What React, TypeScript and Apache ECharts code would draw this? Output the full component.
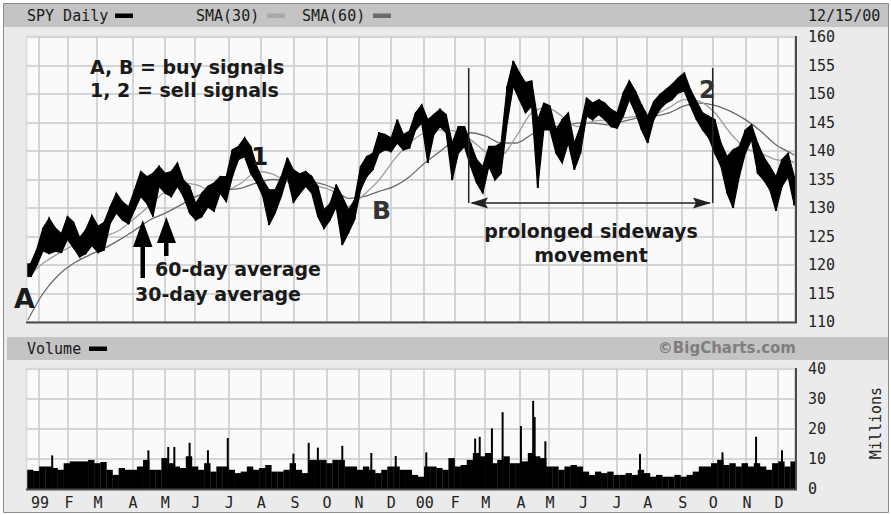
import React, { useEffect, useRef } from "react";
import * as echarts from "echarts";

// Trading days per month: partial Dec 1998, Jan 1999 ... Dec 2000 (to 12/15)
const MONTH_DAYS = [8, 19, 19, 23, 21, 20, 22, 21, 22, 21, 21, 21, 22, 20, 20, 23, 19, 22, 22, 20, 23, 20, 22, 21, 11];
const MONTH_LABELS = ["", "99", "F", "M", "A", "M", "J", "J", "A", "S", "O", "N", "D", "00", "F", "M", "A", "M", "J", "J", "A", "S", "O", "N", "D"];
const PRICE_TICKS = [110, 160, 5];
const VOLUME_TICKS = [0, 40, 10];

// Price range, one high/low pair for every 4 trading days
const SAMPLE_STEP = 4;
const PRICE_HIGH = [
  120.3, 122.8, 126.5, 128.2, 126.5, 125.5, 128.5, 127.5, 124.8, 126.2,
  128.7, 126.8, 127.5, 130.2, 132.6, 131.1, 130.2, 133.2, 136.4, 135.5,
  136.1, 137.3, 136.1, 136.4, 137.9, 134.9, 133.8, 130.8, 132.6, 133.8,
  134.4, 135.5, 135.5, 140.2, 140.8, 142.3, 140.8, 137.3, 134.9, 133.2,
  133.2, 135.5, 138.8, 136.7, 136.0, 136.4, 135.5, 133.8, 129.7, 130.8,
  134.1, 132.0, 129.7, 131.4, 137.3, 139.0, 139.6, 143.2, 142.9, 142.3,
  145.5, 142.9, 143.5, 146.7, 148.1, 145.5, 146.4, 147.3, 146.4, 141.4,
  144.3, 144.3, 141.4, 138.5, 137.3, 140.8, 140.8, 141.4, 151.4, 155.8,
  153.7, 152.0, 152.3, 145.5, 148.4, 147.9, 143.7, 145.5, 146.7, 141.4,
  144.3, 149.3, 148.4, 149.0, 148.4, 147.3, 146.7, 150.2, 152.3, 150.5,
  148.1, 146.1, 148.7, 149.9, 150.8, 151.7, 152.8, 153.7, 150.8, 148.7,
  146.7, 146.1, 145.5, 141.4, 139.0, 140.2, 140.8, 143.7, 144.6, 141.4,
  139.0, 137.3, 135.5, 138.5, 139.6, 135.5,
];
const PRICE_LOW = [
  117.9, 120.0, 122.5, 122.0, 122.4, 122.2, 124.5, 123.0, 121.4, 122.0,
  123.4, 122.2, 122.6, 127.3, 129.1, 127.9, 127.2, 129.7, 132.0, 130.8,
  128.5, 133.8, 132.6, 132.0, 133.8, 132.0, 129.1, 127.9, 128.5, 130.2,
  129.4, 132.6, 131.1, 135.5, 138.5, 139.0, 136.1, 134.4, 132.0, 127.0,
  129.1, 132.0, 135.5, 131.0, 132.5, 133.8, 132.6, 128.5, 126.4, 127.9,
  130.2, 123.5, 125.6, 127.9, 133.2, 135.5, 136.7, 139.6, 140.2, 139.9,
  141.4, 140.2, 140.5, 143.7, 144.9, 137.9, 142.9, 144.3, 143.2, 134.9,
  139.6, 140.8, 137.3, 134.4, 132.6, 137.3, 134.9, 136.1, 144.9, 151.4,
  149.0, 146.7, 147.9, 133.5, 143.7, 143.7, 139.6, 137.9, 141.4, 136.7,
  139.6, 146.1, 145.5, 146.4, 145.5, 144.3, 144.0, 146.1, 149.0, 146.7,
  143.7, 141.4, 145.5, 147.3, 148.4, 149.0, 150.2, 150.5, 147.9, 145.5,
  143.7, 142.3, 139.6, 137.3, 132.6, 130.0, 135.5, 139.6, 142.0, 136.1,
  134.9, 133.2, 129.5, 133.8, 135.5, 130.5,
];

// Moving averages, read at these trading-day positions
const SMA_DAYS = [
  0, 10, 20, 30, 40, 50, 60, 70, 80, 90, 100, 110, 120, 130, 140, 150, 160, 170, 180, 190,
  200, 210, 220, 230, 240, 250, 260, 270, 280, 290, 300, 310, 320, 330, 340, 350, 360, 370, 380, 390,
  400, 410, 420, 430, 440, 450, 460, 470, 480, 490, 500, 502,
];
const SMA30 = [
  117.9, 120.3, 122.0, 123.5, 124.4, 125.0, 126.1, 128.2, 130.5, 132.9, 134.4, 134.1, 133.2, 133.2, 134.4, 136.4, 136.0, 134.6, 134.0, 133.8,
  132.9, 130.2, 132.3, 134.9, 138.5, 141.4, 143.2, 143.7, 143.5, 142.0, 139.9, 139.3, 142.6, 146.7, 147.6, 146.1, 144.3, 145.2, 145.5, 145.8,
  146.1, 146.4, 147.6, 149.0, 148.7, 146.7, 143.2, 140.5, 139.6, 138.5, 138.2, 137.9,
];
const SMA60 = [
  110.3, 115.0, 118.2, 120.3, 121.7, 122.9, 124.4, 126.1, 127.9, 129.1, 130.5, 132.0, 132.9, 133.2, 133.5, 134.4, 135.0, 134.9, 134.6, 134.4,
  133.5, 131.7, 132.0, 132.9, 133.8, 135.5, 137.9, 139.9, 142.0, 143.2, 142.6, 141.4, 141.4, 142.9, 144.3, 144.3, 144.9, 144.9, 144.6, 145.2,
  145.8, 146.1, 146.7, 147.9, 148.4, 148.0, 147.0, 145.5, 143.5, 141.1, 139.6, 139.3,
];

// Volume (millions), typical level for every 4 trading days
const VOLUME = [
  6.4, 6.0, 7.5, 7.5, 7.0, 6.4, 8.6, 9.2, 9.2, 9.2,
  9.7, 8.6, 9.0, 6.4, 4.7, 7.0, 6.4, 6.4, 7.5, 9.7,
  6.4, 6.4, 10.3, 8.6, 7.5, 7.0, 10.9, 7.5, 6.4, 8.6,
  5.8, 7.5, 7.5, 6.4, 5.3, 5.8, 7.5, 6.4, 7.0, 8.0,
  5.8, 5.8, 6.4, 8.6, 6.4, 5.3, 9.7, 9.7, 9.7, 8.6,
  9.7, 9.7, 7.5, 7.5, 6.4, 7.5, 6.4, 5.3, 6.4, 7.5,
  7.5, 6.4, 6.4, 4.7, 4.1, 7.5, 7.5, 7.0, 6.4, 10.3,
  7.5, 8.0, 9.7, 12.0, 10.9, 12.0, 8.6, 9.7, 10.9, 8.6,
  8.6, 9.2, 12.0, 10.9, 10.3, 7.5, 7.5, 6.4, 7.5, 8.0,
  7.5, 5.8, 4.7, 5.8, 5.3, 5.8, 4.7, 4.7, 5.3, 4.7,
  6.4, 5.3, 4.1, 4.7, 4.1, 4.1, 4.7, 4.1, 4.7, 5.8,
  7.5, 7.5, 8.6, 9.7, 8.0, 8.6, 7.5, 8.6, 7.5, 8.6,
  7.5, 6.4, 8.6, 9.2, 7.5, 9.2,
];
// Single-day volume spikes: [trading day, millions]
const VOLUME_SPIKES = [
  [16, 11.2], [79, 12.9], [92, 14.0], [96, 14.0], [106, 15.4], [118, 12.9], [131, 17.0],
  [174, 11.8], [184, 15.4], [190, 13.8], [206, 14.4], [225, 12.0], [241, 11.0],
  [261, 12.2], [293, 16.8], [296, 17.4], [304, 20.2], [311, 25.6], [323, 21.0], [331, 29.4],
  [332, 24.0], [339, 15.9], [401, 11.7], [455, 12.2], [477, 17.4], [494, 12.9],
];

const MONO = '"DejaVu Sans Mono", monospace';
const BOLD = '"DejaVu Sans", "Open Sans", sans-serif';

export default function App() {
  const ref = useRef<HTMLDivElement>(null);

  useEffect(() => {
    if (!ref.current) return;
    const chart = echarts.init(ref.current, null, { renderer: "svg" });

    const N = MONTH_DAYS.reduce((a, b) => a + b, 0);
    const categories = Array.from({ length: N }, (_, i) => String(i));
    const labelAt = new Map<number, string>();
    let acc = 0;
    MONTH_DAYS.forEach((d, i) => {
      labelAt.set(acc, MONTH_LABELS[i]);
      acc += d;
    });
    const isMonth = (i: number) => i > 0 && labelAt.has(i);

    const gridLine = { color: "#c8c8c8", width: 1.5 };

    const makeX = (gridIndex: number) => ({
      type: "category",
      gridIndex,
      data: categories,
      boundaryGap: true,
      axisLine: { show: false },
      axisTick: { show: false },
      axisLabel: {
        show: gridIndex === 1,
        interval: (i: number) => isMonth(i),
        formatter: (_v: string, i: number) => labelAt.get(i) ?? "",
        fontFamily: MONO,
        fontSize: 15,
        color: "#222",
        margin: 6,
      },
      splitLine: { show: true, interval: (i: number) => isMonth(i), lineStyle: gridLine },
    });

    const makeY = (gridIndex: number, t: number[]) => ({
      type: "value",
      gridIndex,
      position: "right",
      min: t[0],
      max: t[1],
      interval: t[2],
      axisLine: { show: false },
      axisTick: { show: false },
      axisLabel: { fontFamily: MONO, fontSize: 15, color: "#222", margin: 13 },
      splitLine: { show: true, lineStyle: gridLine },
    });

    // each sample k: [day, low, high, nextDay, nextLow, nextHigh]
    const priceData = PRICE_HIGH.map((h, k) => {
      const last = k === PRICE_HIGH.length - 1;
      const nk = last ? k : k + 1;
      const nDay = last ? N - 1 : nk * SAMPLE_STEP + SAMPLE_STEP / 2 - 0.5;
      return [k * SAMPLE_STEP + SAMPLE_STEP / 2 - 0.5, PRICE_LOW[k], h, nDay, PRICE_LOW[nk], PRICE_HIGH[nk]];
    });
    const volData = VOLUME.map((v, k) => [k * SAMPLE_STEP, v]);

    const priceRender = (params: any, api: any) => {
      const d0 = api.value(0), lo0 = api.value(1), hi0 = api.value(2);
      const d1 = api.value(3), lo1 = api.value(4), hi1 = api.value(5);
      const a = api.coord([d0, hi0]);
      const b = api.coord([d1, hi1]);
      const c = api.coord([d1, lo1]);
      const e = api.coord([d0, lo0]);
      const bw = api.size([1, 0])[0];
      const children: any[] = [
        { type: "polygon", shape: { points: [a, b, c, e] }, style: { fill: "#000", stroke: "#000", lineWidth: 1.2 } },
        { type: "rect", shape: { x: a[0] - bw * 0.6, y: a[1], width: bw * 1.2, height: Math.max(1, e[1] - a[1]) }, style: { fill: "#000" } },
      ];
      if (params.dataIndex === 0) {
        const s = api.coord([0, hi0]);
        const t = api.coord([0, lo0]);
        children.push({ type: "rect", shape: { x: s[0] - bw / 2, y: s[1], width: a[0] - s[0] + bw / 2, height: t[1] - s[1] }, style: { fill: "#000" } });
      }
      return { type: "group", children };
    };

    const volRender = (params: any, api: any) => {
      const idx = api.value(0);
      const top = api.coord([idx, api.value(1)]);
      const bot = api.coord([idx, 0]);
      const bw = api.size([1, 0])[0];
      const days = Math.min(SAMPLE_STEP, N - idx);
      return {
        type: "rect",
        shape: { x: top[0] - bw / 2, y: top[1], width: bw * days + 0.3, height: Math.max(1, bot[1] - top[1]) },
        style: { fill: "#000" },
      };
    };

    const hline = (x1: number, x2: number, y: number, color: string, w = 1.5) => ({
      type: "line", z: 60, shape: { x1, y1: y, x2, y2: y }, style: { stroke: color, lineWidth: w },
    });
    const vline = (x: number, y1: number, y2: number, color: string, w = 1.5) => ({
      type: "line", z: 60, shape: { x1: x, y1, x2: x, y2 }, style: { stroke: color, lineWidth: w },
    });
    const txt = (x: number, y: number, text: string, font: string, extra: any = {}) => ({
      type: "text", z: 100, x, y,
      style: { text, font, fill: "#1a1a1a", textVerticalAlign: "middle", verticalAlign: "middle", ...extra },
    });

    const option: any = {
      animation: false,
      backgroundColor: "#ffffff",
      grid: [
        { left: 27, top: 37, width: 768, height: 285, show: true, backgroundColor: "#fafafa", borderWidth: 0 },
        { left: 27, top: 369, width: 768, height: 120, show: true, backgroundColor: "#fafafa", borderWidth: 0 },
      ],
      xAxis: [makeX(0), makeX(1)],
      yAxis: [makeY(0, PRICE_TICKS), makeY(1, VOLUME_TICKS)],
      series: [
        {
          type: "line", name: "SMA(60)", xAxisIndex: 0, yAxisIndex: 0, z: 3,
          data: SMA_DAYS.map((d, i) => [d, SMA60[i]]),
          showSymbol: false, smooth: 0.3, lineStyle: { color: "#6a6a6a", width: 1.3 },
        },
        {
          type: "line", name: "SMA(30)", xAxisIndex: 0, yAxisIndex: 0, z: 3,
          data: SMA_DAYS.map((d, i) => [d, SMA30[i]]),
          showSymbol: false, smooth: 0.3, lineStyle: { color: "#9c9c9c", width: 1.3 },
        },
        {
          type: "custom", name: "SPY", xAxisIndex: 0, yAxisIndex: 0, z: 4,
          data: priceData, encode: { x: 0, y: [1, 2] }, renderItem: priceRender, clip: true,
        },
        {
          type: "custom", name: "Volume", xAxisIndex: 1, yAxisIndex: 1, z: 4,
          data: volData, encode: { x: 0, y: 1 }, renderItem: volRender, clip: true,
        },
        {
          type: "bar", name: "VolumeSpikes", xAxisIndex: 1, yAxisIndex: 1, z: 4,
          data: VOLUME_SPIKES, barWidth: 2, itemStyle: { color: "#000" },
        },
      ],
      graphic: [
        // frame
        { type: "rect", z: -10, shape: { x: 3.5, y: 3.5, width: 885, height: 509 }, style: { fill: "#ebebeb", stroke: "#8c8c8c", lineWidth: 1 } },
        { type: "rect", z: -9, shape: { x: 4, y: 4, width: 884, height: 23 }, style: { fill: "#c4c4c4" } },
        { type: "rect", z: -9, shape: { x: 7, y: 337, width: 881, height: 23 }, style: { fill: "#c4c4c4" } },
        // plot borders
        hline(26, 795, 36.5, "#d8d8d8", 1.5),
        vline(26.5, 36, 322, "#d8d8d8", 1.5),
        hline(26, 797, 322.5, "#4a4a4a", 2),
        vline(796, 36, 323, "#4a4a4a", 2),
        hline(26, 795, 368.5, "#d8d8d8", 1.5),
        vline(26.5, 368, 489, "#d8d8d8", 1.5),
        hline(26, 797, 489.5, "#4a4a4a", 2),
        vline(796, 368, 490, "#4a4a4a", 2),
        // header texts and legend swatches
        txt(27, 16, "SPY Daily", `15px ${MONO}`),
        { type: "rect", z: 100, shape: { x: 115, y: 13.5, width: 18, height: 4.5 }, style: { fill: "#000" } },
        txt(196, 16, "SMA(30)", `15px ${MONO}`),
        { type: "rect", z: 100, shape: { x: 267, y: 13.5, width: 18, height: 4.5 }, style: { fill: "#a8a8a8" } },
        txt(302, 16, "SMA(60)", `15px ${MONO}`),
        { type: "rect", z: 100, shape: { x: 373, y: 13.5, width: 18, height: 4.5 }, style: { fill: "#6a6a6a" } },
        txt(808, 16, "12/15/00", `15px ${MONO}`),
        txt(27, 349, "Volume", `15px ${MONO}`),
        { type: "rect", z: 100, shape: { x: 89, y: 346.5, width: 18, height: 4.5 }, style: { fill: "#000" } },
        txt(796, 348, "©BigCharts.com", `bold 15px "DejaVu Sans", sans-serif`, { fill: "#7e7e7e", align: "right", textAlign: "right" }),
        {
          type: "text", z: 100, x: 876, y: 423, rotation: Math.PI / 2,
          style: { text: "Millions", font: `15px ${MONO}`, fill: "#222", align: "center", textAlign: "center", verticalAlign: "middle", textVerticalAlign: "middle" },
        },
        // annotations
        txt(90, 67, "A, B = buy signals", `bold 19px ${BOLD}`),
        txt(90, 90, "1, 2 = sell signals", `bold 19px ${BOLD}`),
        txt(14, 298, "A", `bold 27px ${BOLD}`),
        txt(251, 156, "1", `bold 25px ${BOLD}`),
        txt(372, 210, "B", `bold 25px ${BOLD}`, { fill: "#333" }),
        txt(699, 90, "2", `bold 24px ${BOLD}`, { fill: "#333" }),
        txt(155, 269, "60-day average", `bold 19px ${BOLD}`),
        txt(135, 294, "30-day average", `bold 19px ${BOLD}`),
        txt(591, 231, "prolonged sideways", `bold 19px ${BOLD}`, { align: "center", textAlign: "center" }),
        txt(591, 255, "movement", `bold 19px ${BOLD}`, { align: "center", textAlign: "center" }),
        // arrows
        { type: "rect", z: 100, shape: { x: 140.5, y: 240, width: 4.5, height: 38 }, style: { fill: "#000" } },
        { type: "polygon", z: 100, shape: { points: [[133, 247], [142.7, 220], [152.5, 247]] }, style: { fill: "#000" } },
        { type: "rect", z: 100, shape: { x: 164, y: 238, width: 4.5, height: 18 }, style: { fill: "#000" } },
        { type: "polygon", z: 100, shape: { points: [[157, 243], [166.3, 217], [176, 243]] }, style: { fill: "#000" } },
        vline(468.7, 68, 203, "#222", 1.5),
        vline(712.7, 68, 203, "#222", 1.5),
        hline(472, 710, 203, "#222", 1.5),
        { type: "polygon", z: 100, shape: { points: [[470, 203], [488, 197.5], [485, 203], [488, 208.5]] }, style: { fill: "#222" } },
        { type: "polygon", z: 100, shape: { points: [[711, 203], [693, 197.5], [696, 203], [693, 208.5]] }, style: { fill: "#222" } },
      ],
    };

    chart.setOption(option);
    return () => chart.dispose();
  }, []);

  return (
    <div
      ref={ref}
      style={{ position: "fixed", left: 0, top: 0, width: 891, height: 515, background: "#fff" }}
    />
  );
}
